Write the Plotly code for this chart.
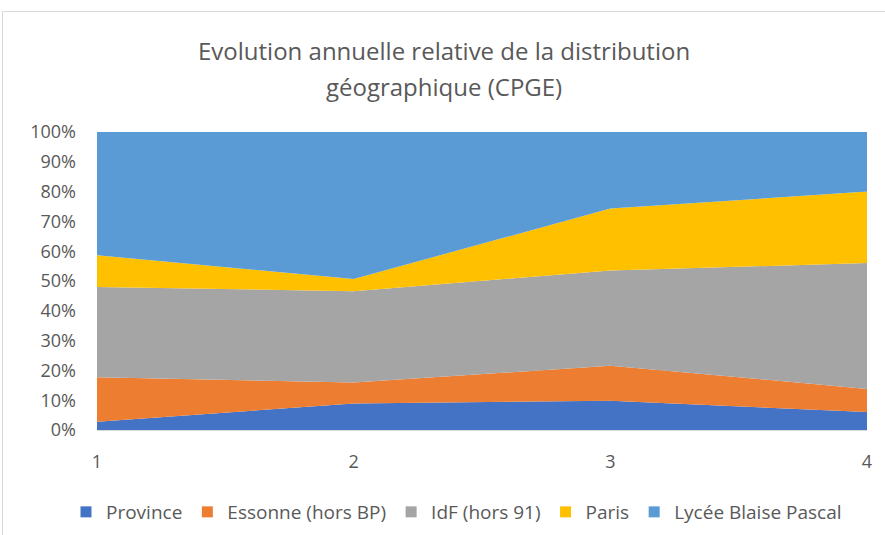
import plotly.graph_objects as go

years = [1, 2, 3, 4]
province = [2.8, 8.9, 9.8, 6.0]
essonne = [14.9, 7.0, 11.8, 7.8]
idf = [30.3, 30.7, 31.9, 42.2]
paris = [10.6, 4.1, 20.8, 24.0]
lbp = [41.4, 49.3, 25.7, 20.0]

series = [
    ("Province", province, "#4472C4"),
    ("Essonne (hors BP)", essonne, "#ED7D31"),
    ("IdF (hors 91)", idf, "#A5A5A5"),
    ("Paris", paris, "#FFC000"),
    ("Lycée Blaise Pascal", lbp, "#5B9BD5"),
]

fig = go.Figure()
for name, vals, col in series:
    fig.add_trace(go.Scatter(
        x=years, y=vals, name=name, mode="lines",
        line=dict(width=0, color=col), fillcolor=col,
        stackgroup="one", groupnorm="percent",
        showlegend=False, hoverinfo="x+y+name",
    ))
# legend entries with square markers
for name, vals, col in series:
    fig.add_trace(go.Scatter(
        x=[None], y=[None], name=name, mode="markers",
        marker=dict(symbol="square", size=11, color=col),
        showlegend=True,
    ))

font_family = "'Open Sans', sans-serif"
W, H = 885, 535
L, R, T, B = 97, 885 - 867, 132, 535 - 430
ph = H - T - B
pw = W - L - R

def py(pix):
    return (H - B - pix) / ph

def px(pix):
    return (pix - L) / pw

fig.update_layout(
    width=W, height=H,
    paper_bgcolor="white", plot_bgcolor="white",
    margin=dict(l=L, r=R, t=T, b=B, autoexpand=False),
    font=dict(family=font_family, size=18, color="#595959"),
    legend=dict(
        orientation="h", x=px(66), xanchor="left", y=py(512), yanchor="middle",
        font=dict(size=19, color="#595959"), traceorder="normal",
        itemwidth=30, tracegroupgap=0,
    ),
    showlegend=True,
    annotations=[
        dict(text="Evolution annuelle relative de la distribution",
             xref="paper", yref="paper", x=px(444), y=py(50), xanchor="center",
             yanchor="middle", showarrow=False,
             font=dict(family=font_family, size=24, color="#595959")),
        dict(text="géographique (CPGE)",
             xref="paper", yref="paper", x=px(444), y=py(87), xanchor="center",
             yanchor="middle", showarrow=False,
             font=dict(family=font_family, size=24, color="#595959")),
    ],
    shapes=[
        dict(type="line", xref="paper", yref="paper",
             x0=px(2.5), x1=px(2.5), y0=py(11), y1=py(540),
             line=dict(color="#D9D9D9", width=1)),
        dict(type="line", xref="paper", yref="paper",
             x0=px(2.5), x1=px(890), y0=py(11.5), y1=py(11.5),
             line=dict(color="#D9D9D9", width=1)),
    ],
)
fig.update_xaxes(
    range=[1, 4], tickvals=years, ticktext=[str(v) for v in years],
    showgrid=False, showline=True, linecolor="#D9D9D9", linewidth=1,
    ticks="", zeroline=False, tickfont=dict(size=18, color="#595959"),
    ticklabelstandoff=15,
)
fig.update_yaxes(
    range=[0, 100], tickvals=list(range(0, 101, 10)),
    ticktext=[f"{v}%" for v in range(0, 101, 10)],
    showgrid=True, gridcolor="#D9D9D9", zeroline=False, showline=False,
    ticks="", tickfont=dict(size=18, color="#595959"),
    ticklabelstandoff=20,
)

fig.write_html("out.html", config={"displayModeBar": False},
               post_script="document.body.style.margin='0';")
